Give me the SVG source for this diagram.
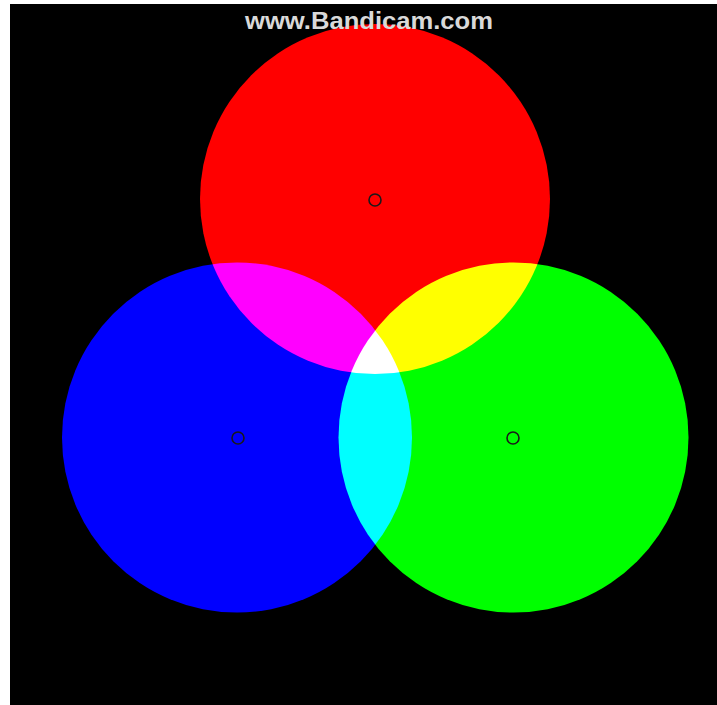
<svg xmlns="http://www.w3.org/2000/svg" width="717" height="705" viewBox="0 0 717 705">
  <style>
    .disc { mix-blend-mode: screen; }
    .dot { fill: none; stroke: #1a1a1a; stroke-width: 1.6; }
    .wm { font-family: "Liberation Sans", Arial, sans-serif; font-weight: bold; font-size: 24px; fill: #d9d9d9; }
  </style>
  <rect x="0" y="0" width="717" height="705" fill="#ffffff"/>
  <g id="canvas" style="isolation:isolate">
    <rect x="10" y="4" width="707" height="701" fill="#000000"/>
    <g id="red"><circle class="disc" cx="375" cy="199" r="175" fill="#ff0000"/></g>
    <g id="blue"><circle class="disc" cx="237" cy="437.5" r="175" fill="#0000ff"/></g>
    <g id="green"><circle class="disc" cx="513.5" cy="437.5" r="175" fill="#00ff00"/></g>
  </g>
  <g id="centers">
    <circle class="dot" cx="375" cy="200" r="6"/>
    <circle class="dot" cx="238" cy="438" r="6"/>
    <circle class="dot" cx="513" cy="438" r="6"/>
  </g>
  <text class="wm" x="245" y="29" textLength="248" lengthAdjust="spacingAndGlyphs">www.Bandicam.com</text>
</svg>
